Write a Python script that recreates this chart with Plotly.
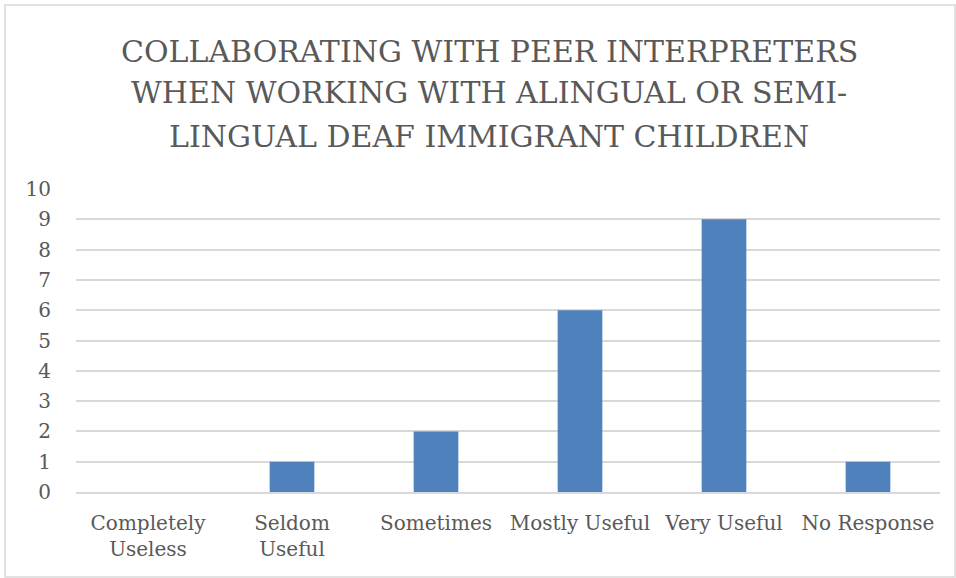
import plotly.graph_objects as go

categories = ["Completely<br>Useless", "Seldom<br>Useful", "Sometimes", "Mostly Useful", "Very Useful", "No Response"]
values = [0, 1, 2, 6, 9, 1]
title_lines = ["COLLABORATING WITH PEER INTERPRETERS",
               "WHEN WORKING WITH ALINGUAL OR SEMI-",
               "LINGUAL DEAF IMMIGRANT CHILDREN"]

W, H = 956, 578
L, R, T, B = 76, 16, 189, 86
pw = W - L - R
ph = H - T - B

fig = go.Figure(go.Bar(
    x=categories, y=values,
    marker=dict(color="#4f81bd", line=dict(color="#4f81bd", width=0)),
    width=0.31,
))

def px2x(p):
    return (p - L) / pw

def px2y(p):
    return (H - B - p) / ph

title_centers = [51, 93, 136]
annotations = [dict(
    text=t, showarrow=False,
    xref="paper", yref="paper", x=px2x(489), y=px2y(c),
    xanchor="center", yanchor="middle", align="center",
    font=dict(family="DejaVu Serif", size=30, color="#595959"),
) for t, c in zip(title_lines, title_centers)]

fig.update_layout(
    width=W, height=H,
    margin=dict(l=L, r=R, t=T, b=B),
    paper_bgcolor="white", plot_bgcolor="white",
    showlegend=False,
    xaxis=dict(
        showgrid=False, showline=True, linecolor="#d9d9d9", linewidth=2,
        ticks="", ticklabelstandoff=12,
        tickfont=dict(family="DejaVu Serif", size=20, color="#595959"),
    ),
    yaxis=dict(
        range=[0, 10], dtick=1, showgrid=True, gridcolor="#d9d9d9", gridwidth=2,
        zeroline=False, showline=False, ticks="", ticklabelstandoff=24,
        tickfont=dict(family="DejaVu Serif", size=20, color="#595959"),
    ),
    annotations=annotations,
    shapes=[dict(
        type="rect", xref="paper", yref="paper",
        x0=px2x(5), x1=px2x(955), y0=px2y(577), y1=px2y(5),
        line=dict(color="#d9d9d9", width=1.5), fillcolor="rgba(0,0,0,0)",
        layer="below",
    )],
)

fig.write_html("out.html")
